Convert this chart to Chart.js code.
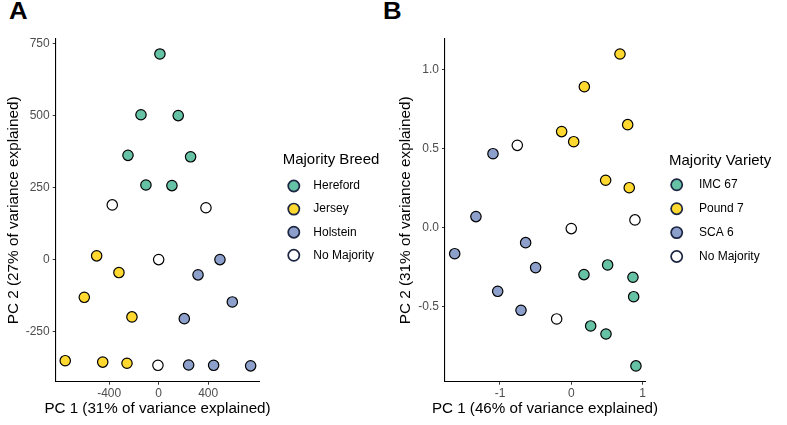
<!DOCTYPE html>
<html><head><meta charset="utf-8">
<script src="https://cdn.jsdelivr.net/npm/chart.js@4.4.0/dist/chart.umd.min.js"></script>
<style>
body{margin:0;background:#fff;width:787px;height:425px;position:relative;overflow:hidden;font-family:"Liberation Sans",Arial,Helvetica,sans-serif}
canvas{position:absolute;top:0}
.lab{position:absolute;font-weight:bold;font-size:23px;line-height:1;color:#000;transform-origin:0 0;transform:scaleX(1.12)}
</style></head><body>
<div class="lab" style="left:9px;top:0px">A</div>
<div class="lab" style="left:383px;top:0px">B</div>
<canvas id="ca" width="390" height="425" style="left:0;width:390px;height:425px"></canvas>
<canvas id="cb" width="397" height="425" style="left:390px;width:397px;height:425px"></canvas>
<script>
// ---------- Panel A data (PC1, PC2) ----------
const breedNames = ["Hereford", "Jersey", "Holstein", "No Majority"];
const herefordA = [[10,714],[-143,503],[158,500],[-248,362],[258,357],[-103,259],[107,257]];
const jerseyA   = [[-501,13],[-321,-45],[-601,-131],[-216,-199],[-755,-351],[-452,-356],[-256,-360]];
const holsteinA = [[495,0],[318,-53],[595,-147],[207,-205],[242,-366],[444,-367],[743,-369]];
const noMajA    = [[-375,190],[382,180],[0,0],[-6,-367]];
const ticksAx = [-400, 0, 400];
const ticksAy = [-250, 0, 250, 500, 750];

// ---------- Panel B data (PC1, PC2) ----------
const varietyNames = ["IMC 67", "Pound 7", "SCA 6", "No Majority"];
const imc67B  = [[0.510,-0.236],[0.178,-0.297],[0.865,-0.314],[0.875,-0.437],[0.272,-0.622],[0.487,-0.673],[0.907,-0.875]];
const pound7B = [[0.683,1.099],[0.183,0.892],[0.791,0.652],[-0.135,0.608],[0.034,0.544],[0.482,0.300],[0.813,0.253]];
const sca6B   = [[-1.098,0.468],[-1.337,0.070],[-1.635,-0.165],[-0.640,-0.095],[-0.500,-0.253],[-1.032,-0.403],[-0.705,-0.523]];
const noMajB  = [[-0.757,0.521],[0.000,-0.006],[0.893,0.049],[-0.205,-0.578]];
const ticksBx = [-1, 0, 1];
const ticksBy = [-0.5, 0, 0.5, 1.0];

const FONT = '"Liberation Sans", Arial, Helvetica, sans-serif';
const fillColors = ["#66C2A5", "#FFD92F", "#8DA0CB", "#FFFFFF"];

// Side legend + x-axis title (drawn without Chart.js's maxWidth squeeze)
const sideLegend = {
  id: 'sideLegend',
  afterDraw(chart, args, o) {
    const ctx = chart.ctx;
    const ca = chart.chartArea;
    ctx.save();
    ctx.textBaseline = 'middle';
    ctx.fillStyle = '#000';
    // x-axis title
    ctx.textAlign = 'center';
    ctx.font = '15.2px ' + FONT;
    ctx.fillText(o.xTitle, (ca.left + ca.right) / 2, o.xTitleY);
    // legend
    ctx.textAlign = 'left';
    ctx.font = '15px ' + FONT;
    ctx.fillText(o.title, o.titleX, o.titleY);
    ctx.font = '12px ' + FONT;
    chart.data.datasets.forEach((ds, i) => {
      const cy = o.itemY0 + i * o.itemGap;
      ctx.beginPath();
      ctx.arc(o.markX, cy, 5.6, 0, Math.PI * 2);
      ctx.fillStyle = ds.backgroundColor;
      ctx.fill();
      ctx.lineWidth = 1.7;
      ctx.strokeStyle = '#1c2541';
      ctx.stroke();
      ctx.fillStyle = '#000';
      ctx.fillText(ds.label, o.labelX, cy);
    });
    ctx.restore();
  }
};

function toPts(arr) { return arr.map(p => ({x: p[0], y: p[1]})); }

function makeChart(id, names, series, xr, yr, xt, yt, xfmt, yfmt, xTitle, yTitle, cfg) {
  const datasets = series.map((s, i) => ({
    label: names[i],
    data: toPts(s),
    backgroundColor: fillColors[i],
    borderColor: '#000',
    borderWidth: 1.2,
    pointRadius: 5.2,
    pointHoverRadius: 5.2,
    clip: false
  }));
  cfg.legend.xTitle = xTitle;
  return new Chart(document.getElementById(id), {
    type: 'scatter',
    data: { datasets },
    plugins: [sideLegend],
    options: {
      responsive: false,
      animation: false,
      events: [],
      layout: { padding: { left: 0, top: 39, right: cfg.padRight, bottom: 0 } },
      plugins: {
        legend: { display: false },
        tooltip: { enabled: false },
        sideLegend: cfg.legend
      },
      scales: {
        x: {
          type: 'linear', min: xr[0], max: xr[1],
          afterBuildTicks: s => { s.ticks = xt.map(v => ({value: v})); },
          afterFit: s => { s.height = 43.3; },
          grid: { display: true, drawOnChartArea: false, drawTicks: true, tickLength: 3, color: '#333', lineWidth: 1 },
          border: { display: true, color: '#000', width: 1.1 },
          ticks: { color: '#4d4d4d', font: { size: 12, family: FONT }, padding: 2, maxRotation: 0, callback: xfmt },
          title: { display: false }
        },
        y: {
          type: 'linear', min: yr[0], max: yr[1],
          afterBuildTicks: s => { s.ticks = yt.map(v => ({value: v})); },
          afterFit: s => { s.width = cfg.yWidth; },
          grid: { display: true, drawOnChartArea: false, drawTicks: true, tickLength: 3, color: '#333', lineWidth: 1 },
          border: { display: true, color: '#000', width: 1.1 },
          ticks: { color: '#4d4d4d', font: { size: 12, family: FONT }, padding: 3, callback: yfmt },
          title: { display: true, text: yTitle, color: '#000', font: { size: 15.3, family: FONT }, padding: { top: cfg.yTitlePad, bottom: 0 } }
        }
      }
    }
  });
}

makeChart('ca', breedNames, [herefordA, jerseyA, holsteinA, noMajA],
  [-832, 813], [-424, 766], ticksAx, ticksAy,
  v => String(v), v => String(v),
  'PC 1 (31% of variance explained)', 'PC 2 (27% of variance explained)',
  { padRight: 130.7, yWidth: 55.7, yTitlePad: 4.5,
    legend: { xTitleY: 409, title: 'Majority Breed', titleX: 282.7, titleY: 160, markX: 293.8, labelX: 313.3, itemY0: 186, itemGap: 23.1 } });

makeChart('cb', varietyNames, [imc67B, pound7B, sca6B, noMajB],
  [-1.771, 1.034], [-0.975, 1.194], ticksBx, ticksBy,
  v => String(v), v => Number(v).toFixed(1),
  'PC 1 (46% of variance explained)', 'PC 2 (31% of variance explained)',
  { padRight: 142, yWidth: 55, yTitlePad: 7,
    legend: { xTitleY: 409, title: 'Majority Variety', titleX: 279, titleY: 161, markX: 286.7, labelX: 309, itemY0: 184.8, itemGap: 23.9 } });
</script>
</body></html>
